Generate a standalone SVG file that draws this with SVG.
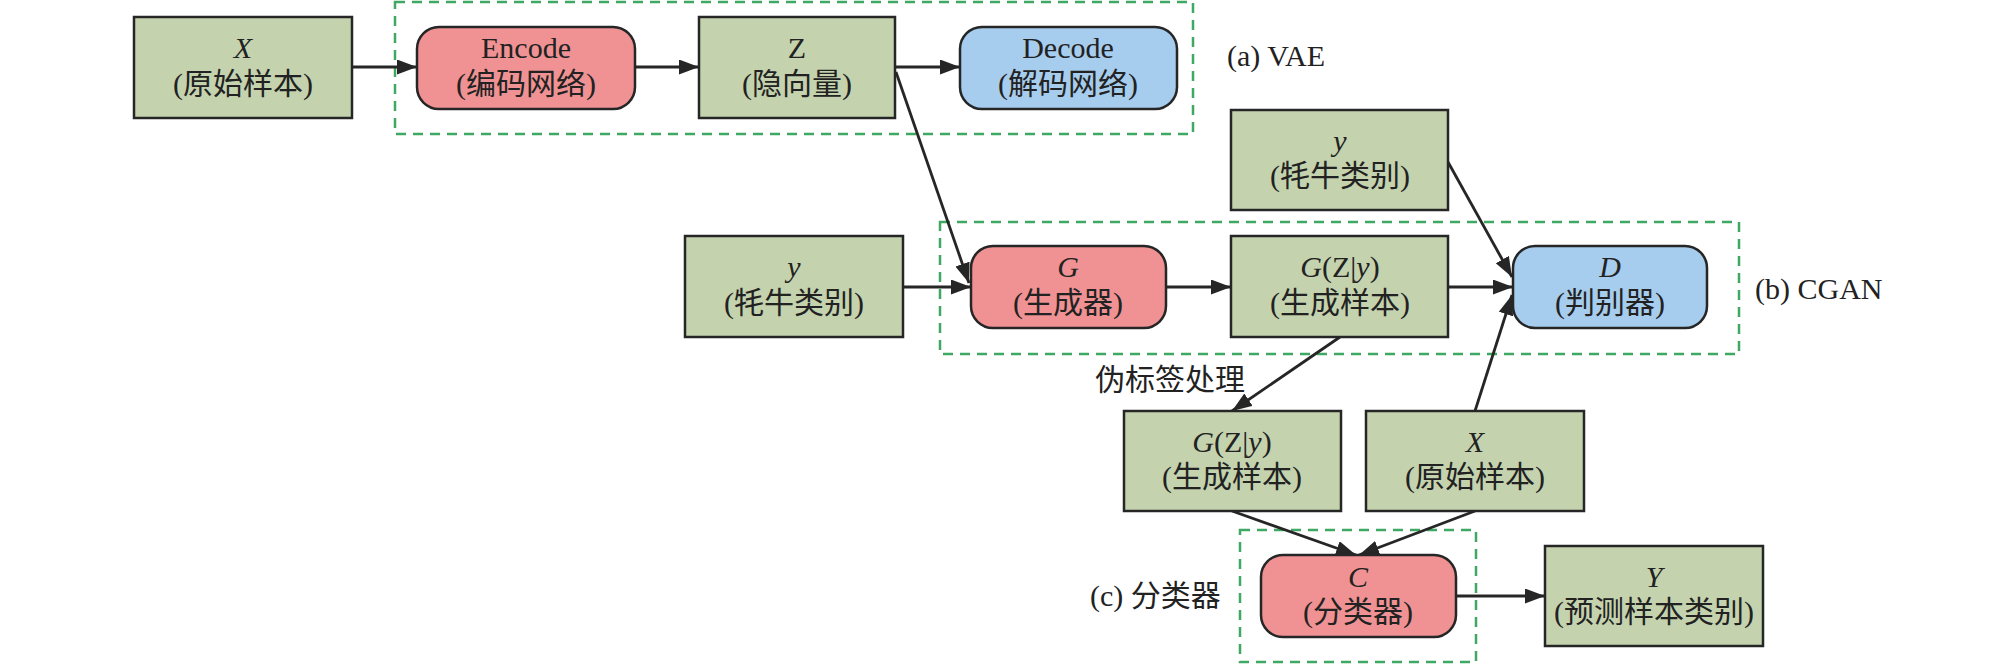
<svg xmlns="http://www.w3.org/2000/svg" width="2008" height="664" viewBox="0 0 2008 664">
<style>
.g{fill:#c4d3ae;stroke:#262626;stroke-width:2.5}
.r{fill:#f09293;stroke:#262626;stroke-width:2.5}
.b{fill:#a7cdee;stroke:#262626;stroke-width:2.5}
.grp{fill:none;stroke:#3fa862;stroke-width:2.5;stroke-dasharray:10 7}
.c{fill:none;stroke:#262626;stroke-width:2.8}
.t{font-family:"Liberation Serif","Noto Sans CJK SC",serif;font-size:30px;fill:#222;text-anchor:middle}
.l{font-family:"Liberation Serif","Noto Sans CJK SC",serif;font-size:30px;fill:#222}
.i{font-style:italic}
</style>
<defs>
<marker id="a" markerUnits="userSpaceOnUse" markerWidth="22" markerHeight="16" refX="20" refY="7.5" orient="auto">
<path d="M0,0 L20,7.5 L0,15 z" fill="#262626"/>
</marker>
</defs>
<rect width="2008" height="664" fill="#fff"/>
<g id="groups">
<rect class="grp" x="395" y="2" width="798" height="132"/>
<rect class="grp" x="940" y="222" width="799" height="132"/>
<rect class="grp" x="1240" y="530" width="236" height="132"/>
<text class="l" x="1227" y="66">(a) VAE</text>
<text class="l" x="1755" y="299">(b) CGAN</text>
<text class="l" x="1090" y="606">(c) 分类器</text>
<text class="l" x="1095" y="390">伪标签处理</text>
</g>
<g id="connectors">
<line class="c" x1="352" y1="67" x2="417" y2="67" marker-end="url(#a)"/>
<line class="c" x1="635" y1="67" x2="699" y2="67" marker-end="url(#a)"/>
<line class="c" x1="895" y1="67" x2="960" y2="67" marker-end="url(#a)"/>
<line class="c" x1="896" y1="72" x2="969" y2="283" marker-end="url(#a)"/>
<line class="c" x1="903" y1="287" x2="971" y2="287" marker-end="url(#a)"/>
<line class="c" x1="1166" y1="287" x2="1231" y2="287" marker-end="url(#a)"/>
<line class="c" x1="1448" y1="287" x2="1513" y2="287" marker-end="url(#a)"/>
<line class="c" x1="1448" y1="162" x2="1512" y2="277" marker-end="url(#a)"/>
<line class="c" x1="1475" y1="411" x2="1512" y2="295" stroke-width="2.2" marker-end="url(#a)"/>
<line class="c" x1="1340" y1="337" x2="1232" y2="411" marker-end="url(#a)"/>
<line class="c" x1="1232" y1="511" x2="1356" y2="555" marker-end="url(#a)"/>
<line class="c" x1="1475" y1="511" x2="1359" y2="555" marker-end="url(#a)"/>
<line class="c" x1="1456" y1="596" x2="1545" y2="596" stroke-width="2.2" marker-end="url(#a)"/>
</g>
<g id="X1"><rect class="g" x="134" y="17" width="218" height="101"/>
<text class="t" x="243" y="58"><tspan class="i">X</tspan></text><text class="t" x="243" y="94">(原始样本)</text></g>
<g id="Encode"><rect class="r" x="417" y="27" width="218" height="82" rx="22"/>
<text class="t" x="526" y="58">Encode</text><text class="t" x="526" y="94">(编码网络)</text></g>
<g id="Z"><rect class="g" x="699" y="17" width="196" height="101"/>
<text class="t" x="797" y="58">Z</text><text class="t" x="797" y="94">(隐向量)</text></g>
<g id="Decode"><rect class="b" x="960" y="27" width="217" height="82" rx="22"/>
<text class="t" x="1068" y="58">Decode</text><text class="t" x="1068" y="94">(解码网络)</text></g>
<g id="y2"><rect class="g" x="1231" y="110" width="217" height="100"/>
<text class="t" x="1340" y="151"><tspan class="i">y</tspan></text><text class="t" x="1340" y="186">(牦牛类别)</text></g>
<g id="y1"><rect class="g" x="685" y="236" width="218" height="101"/>
<text class="t" x="794" y="277"><tspan class="i">y</tspan></text><text class="t" x="794" y="313">(牦牛类别)</text></g>
<g id="G"><rect class="r" x="971" y="246" width="195" height="82" rx="22"/>
<text class="t" x="1068" y="277"><tspan class="i">G</tspan></text><text class="t" x="1068" y="313">(生成器)</text></g>
<g id="GZy1"><rect class="g" x="1231" y="236" width="217" height="101"/>
<text class="t" x="1340" y="277"><tspan class="i">G</tspan>(Z|<tspan class="i">y</tspan>)</text><text class="t" x="1340" y="313">(生成样本)</text></g>
<g id="D"><rect class="b" x="1513" y="246" width="194" height="82" rx="22"/>
<text class="t" x="1610" y="277"><tspan class="i">D</tspan></text><text class="t" x="1610" y="313">(判别器)</text></g>
<g id="GZy2"><rect class="g" x="1124" y="411" width="217" height="100"/>
<text class="t" x="1232" y="452"><tspan class="i">G</tspan>(Z|<tspan class="i">y</tspan>)</text><text class="t" x="1232" y="487">(生成样本)</text></g>
<g id="X2"><rect class="g" x="1366" y="411" width="218" height="100"/>
<text class="t" x="1475" y="452"><tspan class="i">X</tspan></text><text class="t" x="1475" y="487">(原始样本)</text></g>
<g id="C"><rect class="r" x="1261" y="555" width="195" height="82" rx="22"/>
<text class="t" x="1358" y="587"><tspan class="i">C</tspan></text><text class="t" x="1358" y="622">(分类器)</text></g>
<g id="Y"><rect class="g" x="1545" y="546" width="218" height="100"/>
<text class="t" x="1654" y="587"><tspan class="i">Y</tspan></text><text class="t" x="1654" y="622">(预测样本类别)</text></g>
</svg>
